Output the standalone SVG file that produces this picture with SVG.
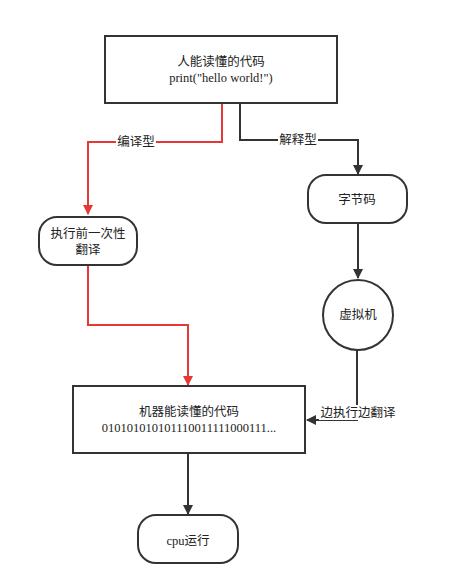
<svg xmlns="http://www.w3.org/2000/svg" width="459" height="581" viewBox="0 0 459 581">
<defs>
<marker id="ab" markerWidth="10" markerHeight="10" refX="9" refY="5" orient="auto" markerUnits="userSpaceOnUse"><path d="M0,0 L10,5 L0,10 Z" fill="#333"/></marker>
<marker id="ar" markerWidth="10" markerHeight="10" refX="9" refY="5" orient="auto" markerUnits="userSpaceOnUse"><path d="M0,0 L10,5 L0,10 Z" fill="#e53935"/></marker>
</defs>
<style>
.n{fill:#fff;stroke:#333;stroke-width:2}
.t{font-family:"Liberation Serif","Noto Sans CJK SC",serif;font-size:12.5px;fill:#222;text-anchor:middle}
.e{fill:none;stroke:#333;stroke-width:2}
.r{fill:none;stroke:#e53935;stroke-width:2}
.lb{fill:#fff}
</style>
<rect width="459" height="581" fill="#fff"/>
<g id="connectors">
<path class="r" d="M222,103 V142 H88 V214" marker-end="url(#ar)"/>
<path class="e" d="M240,103 V140 H358 V174" marker-end="url(#ab)"/>
<path class="e" d="M358,223 V278" marker-end="url(#ab)"/>
<path class="r" d="M88,265 V325 H188 V385" marker-end="url(#ar)"/>
<path class="e" d="M357,350 V420 H307" marker-end="url(#ab)"/>
<path class="e" d="M188,453 V514" marker-end="url(#ab)"/>
<rect class="lb" x="116" y="134" width="40" height="16"/>
<text class="t" x="136" y="146">编译型</text>
<rect class="lb" x="278" y="132" width="40" height="16"/>
<text class="t" x="298" y="144">解释型</text>
<rect class="lb" x="319" y="405" width="78" height="15"/>
<text class="t" x="358" y="417">边执行边翻译</text>
</g>
<g id="n1"><rect class="n" x="105" y="36" width="232" height="67"/>
<text class="t" x="221" y="66">人能读懂的代码</text>
<text class="t" x="221" y="82">print("hello world!")</text></g>
<g id="n2"><rect class="n" x="39" y="217" width="98" height="48" rx="18"/>
<text class="t" x="88" y="238">执行前一次性</text>
<text class="t" x="88" y="254">翻译</text></g>
<g id="n3"><rect class="n" x="308" y="175" width="99" height="48" rx="18"/>
<text class="t" x="357" y="204">字节码</text></g>
<g id="n4"><circle class="n" cx="358" cy="315" r="35"/>
<text class="t" x="358" y="319">虚拟机</text></g>
<g id="n5"><rect class="n" x="73" y="386" width="232" height="67"/>
<text class="t" x="189" y="416">机器能读懂的代码</text>
<text class="t" x="189" y="432">010101010101110011111000111...</text></g>
<g id="n6"><rect class="n" x="138" y="515" width="100" height="48" rx="18"/>
<text class="t" x="188" y="545">cpu运行</text></g>
</svg>
